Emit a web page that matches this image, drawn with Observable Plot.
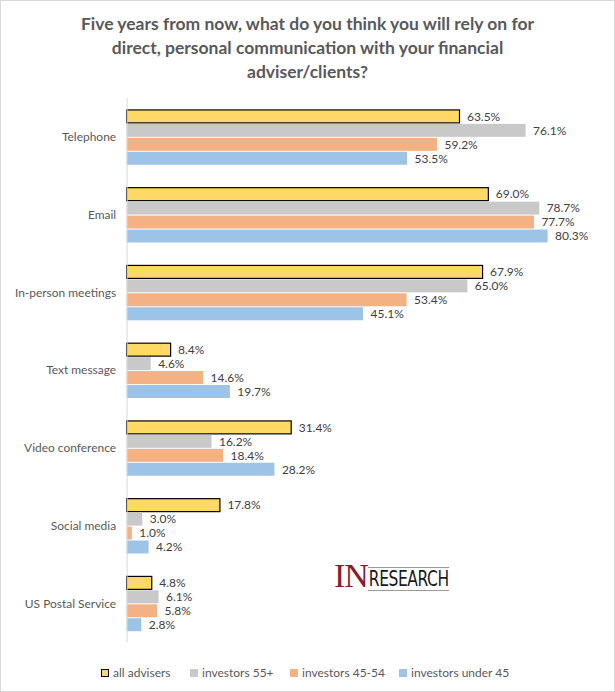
<!DOCTYPE html>
<html><head><meta charset="utf-8">
<script src="https://cdn.jsdelivr.net/npm/d3@7"></script>
<script src="https://cdn.jsdelivr.net/npm/@observablehq/plot@0.6"></script>
<style>
html,body{margin:0;padding:0;background:#fff;}
#wrap{position:relative;width:615px;height:692px;box-sizing:border-box;border:1px solid #d9d9d9;font-family:Lato,"Open Sans",sans-serif;overflow:hidden;}
#title{position:absolute;left:0;top:11px;width:613px;text-align:center;font-weight:bold;font-size:17.5px;line-height:24px;color:#595959;}
#chart{position:absolute;left:0;top:89px;}
#legend{position:absolute;left:0;top:664px;width:613px;font-size:12px;color:#595959;}
#legend span.item{position:absolute;top:0;white-space:nowrap;}
#legend span.sw{display:inline-block;width:8px;height:8px;margin-right:4px;vertical-align:0px;box-sizing:border-box;}
#logo{position:absolute;left:333px;top:557px;width:115px;height:38px;}
#logo .in{position:absolute;left:0;top:0;font-family:"Liberation Serif",serif;font-size:34px;line-height:36px;color:#8b1a2a;letter-spacing:-1px;}
#logo .rs{position:absolute;left:34px;top:9px;font-family:"DejaVu Sans Condensed","Liberation Sans Narrow",sans-serif;font-stretch:condensed;font-size:21px;line-height:22px;color:#1a1a1a;border-top:1px solid #9a9a9a;border-bottom:1px solid #9a9a9a;padding:0 1px;letter-spacing:-0.5px;transform:scaleX(0.82);transform-origin:left top;}
</style></head>
<body><div id="wrap">
<div id="title">Five years from now, what do you think you will rely on for<br>direct, personal communication with your financial<br>adviser/clients?</div>
<div id="chart"></div>
<div id="logo"><span class="in">IN</span><span class="rs">RESEARCH</span></div>
<div id="legend"></div>
</div>
<script>
const categories = ["Telephone","Email","In-person meetings","Text message","Video conference","Social media","US Postal Service"];
const series = ["all advisers","investors 55+","investors 45-54","investors under 45"];
const allAdvisers = [63.5, 69.0, 67.9, 8.4, 31.4, 17.8, 4.8];
const investors55 = [76.1, 78.7, 65.0, 4.6, 16.2, 3.0, 6.1];
const investors4554 = [59.2, 77.7, 53.4, 14.6, 18.4, 1.0, 5.8];
const investorsUnder45 = [53.5, 80.3, 45.1, 19.7, 28.2, 4.2, 2.8];
const colors = ["#FFD966","#C9C9C9","#F4B183","#9DC3E6"];

const values = [allAdvisers, investors55, investors4554, investorsUnder45];
const data = [];
categories.forEach((c, i) => series.forEach((s, j) => data.push({category: c, series: s, value: values[j][i]})));

const chart = Plot.plot({
  width: 615,
  height: 566,
  marginTop: 6,
  marginBottom: 10,
  marginLeft: 126,
  marginRight: 0,
  style: {fontFamily: "Lato, 'Open Sans', sans-serif", fontSize: "12px", color: "#595959", overflow: "visible"},
  x: {domain: [0, 100], range: [126, 652], axis: null},
  fy: {domain: categories, padding: 0, label: null, tickSize: 0, tickPadding: 11, axis: "left"},
  y: {domain: series, axis: null, paddingInner: 0.1, paddingOuter: 0.68},
  color: {domain: series, range: colors},
  marks: [
    Plot.barX(data, {fy: "category", y: "series", x: "value", fill: "series",
      stroke: d => d.series === "all advisers" ? "#000" : "none", strokeWidth: 1.2}),
    Plot.text(data, {fy: "category", y: "series", x: "value", text: d => d.value.toFixed(1) + "%",
      textAnchor: "start", dx: 7, fill: "#404040", fontSize: 12}),
    Plot.ruleX([0], {stroke: "#d9d9d9", strokeWidth: 1})
  ]
});
document.getElementById("chart").appendChild(chart);

const legend = document.getElementById("legend");
const lx = [100, 189, 289, 398];
series.forEach((s, i) => {
  const it = document.createElement("span");
  it.className = "item";
  it.style.left = lx[i] + "px";
  const sw = document.createElement("span");
  sw.className = "sw";
  sw.style.background = colors[i];
  if (i === 0) sw.style.border = "1px solid #000";
  it.appendChild(sw);
  it.appendChild(document.createTextNode(s));
  legend.appendChild(it);
});
</script>
</body></html>
